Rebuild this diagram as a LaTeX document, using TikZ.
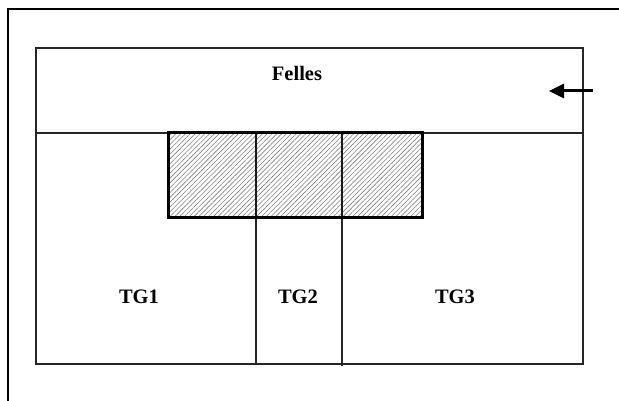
\documentclass[tikz,border=0pt]{standalone}
\usepackage{fontspec}
\setmainfont{Liberation Serif}
\usetikzlibrary{patterns.meta,arrows.meta}
\begin{document}
\begin{tikzpicture}[x=1pt,y=-1pt,
  frameline/.style={line width=2pt, draw=black},
  boxline/.style={line width=1.4pt, draw=black!85},
  sepline/.style={line width=1.1pt, draw=black!85},
  innerline/.style={line width=1.8pt, draw=black!90},
  hatchfill/.style={pattern={Lines[angle=45,distance=3.4pt,line width=0.6pt]}, pattern color=black!50},
  lbl/.style={font=\fontsize{20.5}{24}\selectfont\bfseries, inner sep=0pt},
  arrowline/.style={line width=3pt, -{Triangle[length=15pt,width=14pt]}}]
\useasboundingbox (0,0) rectangle (619,401);
% outer frame (only top and left visible)
\coordinate (fbl) at (8,403);
\coordinate (ftl) at (8,9);
\coordinate (ftr) at (621,9);
\draw[frameline] (fbl) -- (ftl) -- (ftr);
% main box
\coordinate (btl) at (36,48);
\coordinate (bbr) at (583,364);
\draw[boxline] (btl) rectangle (bbr);
% separator under Felles
\coordinate (sl) at (36,133);
\coordinate (sr) at (583,133);
\draw[sepline] (sl) -- (sr);
% hatched area
\coordinate (htl) at (168,133);
\coordinate (hbr) at (422,218);
\fill[hatchfill] (htl) rectangle (hbr);
% vertical dividers
\coordinate (v1t) at (256,133);
\coordinate (v1m) at (256,218);
\coordinate (v1b) at (256,364);
\coordinate (v2t) at (342,133);
\coordinate (v2m) at (342,218);
\coordinate (v2b) at (342,366);
\draw[innerline] (v1t) -- (v1m);
\draw[innerline] (v2t) -- (v2m);
\draw[boxline] (v1m) -- (v1b);
\draw[boxline] (v2m) -- (v2b);
\draw[line width=3pt, draw=black] (htl) rectangle (hbr);
% labels
\node[lbl] (felles) at (297,73) {Felles};
\node[lbl] (tg1) at (139,297) {TG1};
\node[lbl] (tg2) at (298,297) {TG2};
\node[lbl] (tg3) at (455,297) {TG3};
% arrow
\coordinate (atail) at (593,91);
\coordinate (ahead) at (549,91);
\draw[arrowline] (atail) -- (ahead);
\end{tikzpicture}
\end{document}
